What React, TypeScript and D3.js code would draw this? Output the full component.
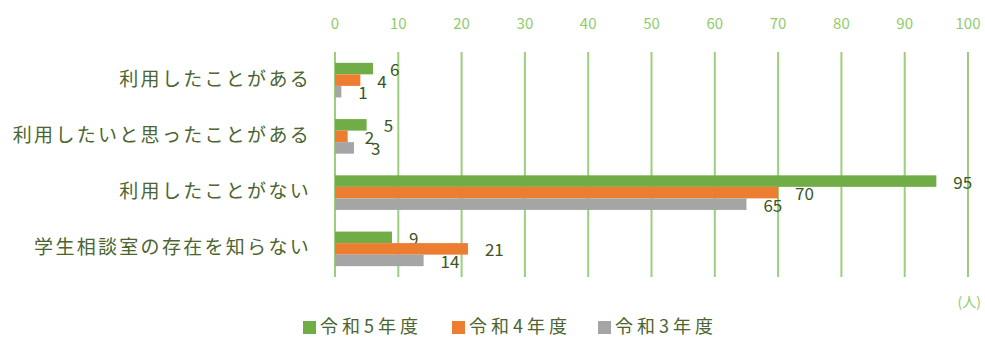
import React, { useEffect, useRef } from 'react';
import * as d3 from 'd3';

const categories = [
  '利用したことがある',
  '利用したいと思ったことがある',
  '利用したことがない',
  '学生相談室の存在を知らない',
];
const seriesNames = ['令和5年度', '令和4年度', '令和3年度'];
const reiwa5 = [6, 5, 95, 9];
const reiwa4 = [4, 2, 70, 21];
const reiwa3 = [1, 3, 65, 14];
const xTicks = [0, 10, 20, 30, 40, 50, 60, 70, 80, 90, 100];
const colors = ['#70ad47', '#ed7d31', '#a5a5a5'];

const FONT = '"Noto Sans CJK JP", "Noto Sans", sans-serif';

const App: React.FC = () => {
  const svgRef = useRef<SVGSVGElement>(null);

  useEffect(() => {
    if (!svgRef.current) return;
    const svg = d3.select(svgRef.current);
    svg.selectAll('*').remove();

    const width = 985;
    const height = 338;
    svg.attr('width', width).attr('height', height);

    const series = [reiwa5, reiwa4, reiwa3];

    const x = d3.scaleLinear().domain([0, 100]).range([335, 968]);
    const y = d3.scaleBand<string>().domain(categories).range([52, 277]).padding(0);
    // bars inside each category, group of ~34px centred in the band
    const inner = d3.scaleBand<number>()
      .domain([0, 1, 2])
      .range([0, y.bandwidth()])
      .paddingOuter(0.94)
      .paddingInner(0);

    // gridlines
    svg.append('g')
      .selectAll('line')
      .data(xTicks)
      .join('line')
      .attr('x1', d => x(d))
      .attr('x2', d => x(d))
      .attr('y1', 52)
      .attr('y2', 277)
      .attr('stroke', '#9ccf7d')
      .attr('stroke-width', 2);

    // tick labels on top
    svg.append('g')
      .selectAll('text')
      .data(xTicks)
      .join('text')
      .attr('x', d => x(d))
      .attr('y', 29)
      .attr('text-anchor', 'middle')
      .attr('fill', '#8fcb6b')
      .attr('font-family', FONT)
      .attr('font-size', 15)
      .text(d => d);

    // category labels
    svg.append('g')
      .selectAll('text')
      .data(categories)
      .join('text')
      .attr('x', 311)
      .attr('y', d => (y(d) as number) + y.bandwidth() / 2 - 3)
      .attr('dominant-baseline', 'central')
      .attr('text-anchor', 'end')
      .attr('fill', '#4a6530')
      .attr('font-family', FONT)
      .attr('font-size', 19)
      .attr('letter-spacing', 2.3)
      .text(d => d);

    // bars + labels
    series.forEach((vals, si) => {
      const g = svg.append('g');
      g.selectAll('rect')
        .data(vals)
        .join('rect')
        .attr('x', x(0))
        .attr('y', (_, i) => (y(categories[i]) as number) + (inner(si) as number))
        .attr('width', d => x(d) - x(0))
        .attr('height', inner.bandwidth())
        .attr('fill', colors[si]);

      g.selectAll('text')
        .data(vals)
        .join('text')
        .attr('x', d => x(d) + 17)
        .attr('y', (_, i) => (y(categories[i]) as number) + (inner(si) as number) + inner.bandwidth() / 2)
        .attr('dominant-baseline', 'central')
        .attr('fill', '#3a5624')
        .attr('font-family', FONT)
        .attr('font-size', 17)
        .text(d => d);
    });

    // unit
    svg.append('text')
      .attr('x', 981)
      .attr('y', 307)
      .attr('text-anchor', 'end')
      .attr('fill', '#8fcb6b')
      .attr('font-family', FONT)
      .attr('font-size', 14)
      .text('(人)');

    // legend
    const legendX = [303, 452, 598];
    const lg = svg.append('g');
    seriesNames.forEach((name, i) => {
      lg.append('rect')
        .attr('x', legendX[i])
        .attr('y', 321)
        .attr('width', 13)
        .attr('height', 13)
        .attr('fill', colors[i]);
      lg.append('text')
        .attr('x', legendX[i] + 17)
        .attr('y', 325)
        .attr('dominant-baseline', 'central')
        .attr('fill', '#4a6530')
        .attr('font-family', FONT)
        .attr('font-size', 18)
        .attr('letter-spacing', 4)
        .text(name);
    });
  }, []);

  return (
    <div style={{ position: 'absolute', left: 0, top: 0 }}>
      <svg ref={svgRef}></svg>
    </div>
  );
};

export default App;
